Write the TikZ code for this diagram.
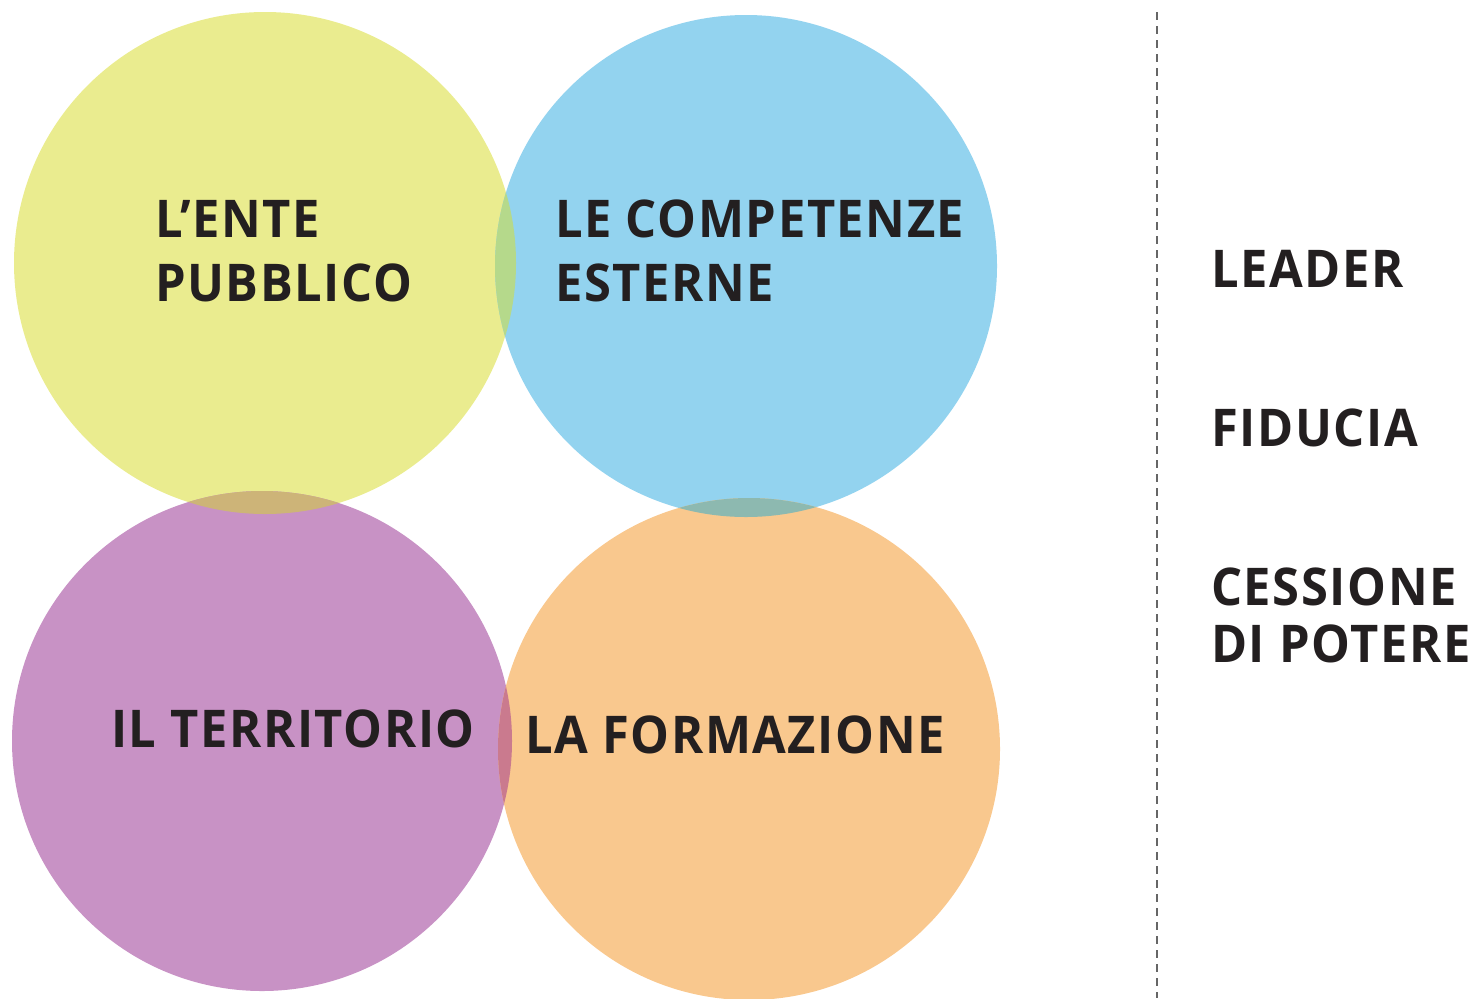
\documentclass[tikz,border=0pt]{standalone}
\usepackage{fontspec}
\setmainfont{Open Sans}
\newfontfamily\labfont[FakeStretch=0.94,LetterSpace=3]{Open Sans Bold}
\definecolor{cyel}{HTML}{EAEC8F}
\definecolor{cblu}{HTML}{93D3EF}
\definecolor{cpur}{HTML}{C892C5}
\definecolor{cora}{HTML}{F9C88E}
\definecolor{cyb}{HTML}{B5D98B}
\definecolor{cyp}{HTML}{CDB478}
\definecolor{cbo}{HTML}{8DB9B0}
\definecolor{cpo}{HTML}{CA7A8E}
\definecolor{ink}{HTML}{231F20}
\begin{document}
\begin{tikzpicture}[x=1bp,y=-1bp,
  lab/.style={anchor=base west,inner sep=0pt,text=ink,font=\labfont\fontsize{52bp}{64bp}\selectfont},
  dash line/.style={draw=black!60,line width=2bp,dash pattern=on 8bp off 6bp}]
\useasboundingbox (0,0) rectangle (1484,998);
% circles
\fill[cyel] (265,263) circle (251);
\fill[cblu] (746,266) circle (251);
\fill[cpur] (262,741) circle (250);
\fill[cora] (749,749) circle (251);
% overlaps
\begin{scope}\clip (265,263) circle (251); \fill[cyb] (746,266) circle (251);\end{scope}
\begin{scope}\clip (265,263) circle (251); \fill[cyp] (262,741) circle (250);\end{scope}
\begin{scope}\clip (746,266) circle (251); \fill[cbo] (749,749) circle (251);\end{scope}
\begin{scope}\clip (262,741) circle (250); \fill[cpo] (749,749) circle (251);\end{scope}
% labels
\node[lab] (e1) at (155,237) {L’ENTE};
\node[lab] (e2) at (155,301) {PUBBLICO};
\node[lab] (c1) at (555,237) {LE COMPETENZE};
\node[lab] (c2) at (555,301) {ESTERNE};
\node[lab] (t1) at (111,747) {IL TERRITORIO};
\node[lab] (f1) at (525,753) {LA FORMAZIONE};
\node[lab] (r1) at (1211,287) {LEADER};
\node[lab] (r2) at (1211,446) {FIDUCIA};
\node[lab] (r3) at (1211,605) {CESSIONE};
\node[lab] (r4) at (1211,662) {DI POTERE};
% divider
\coordinate (dtop) at (1157,12);
\coordinate (dbot) at (1157,998);
\draw[dash line] (dtop) -- (dbot);
\end{tikzpicture}
\end{document}
